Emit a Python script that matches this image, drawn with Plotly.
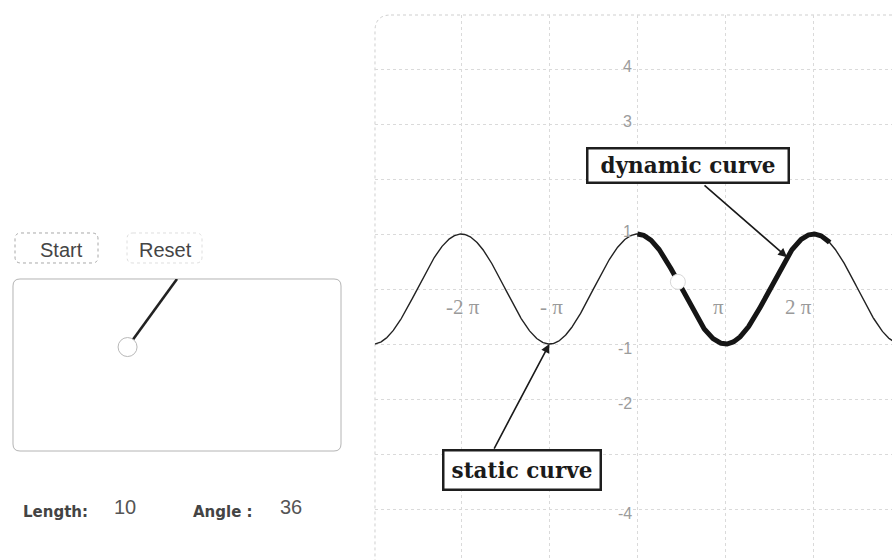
import numpy as np
import plotly.graph_objects as go

W, H = 892, 560

# ---- data -------------------------------------------------------------
pendulum_length = 10          # rod length
pendulum_angle = 36           # degrees from vertical
length_label = "Length:"
angle_label = "Angle :"

x_tick_vals = [-2 * np.pi, -np.pi, np.pi, 2 * np.pi]
x_tick_text = ["-2 \u03c0", "- \u03c0", "\u03c0", "2 \u03c0"]
y_tick_vals = [4, 3, 1, -1, -2, -4]
y_tick_text = ["4", "3", "1", "-1", "-2", "-4"]

amplitude = 1.0               # y = A cos(x)
dynamic_start = 0.0           # traced part of the curve
dynamic_end = 6.85
moving_point_x = 1.44         # current position of the tracing point
static_pointer_x = -np.pi     # where the "static curve" arrow points
dynamic_pointer_x = 5.33      # where the "dynamic curve" arrow points


def px(x):
    return x / W


def py(y):
    return 1 - y / H


def rrect(x0, y0, x1, y1, r):
    """Rounded rectangle path in paper units from pixel corners."""
    pts = [
        ("M", px(x0 + r), py(y0)),
        ("L", px(x1 - r), py(y0)),
        ("Q", px(x1), py(y0), px(x1), py(y0 + r)),
        ("L", px(x1), py(y1 - r)),
        ("Q", px(x1), py(y1), px(x1 - r), py(y1)),
        ("L", px(x0 + r), py(y1)),
        ("Q", px(x0), py(y1), px(x0), py(y1 - r)),
        ("L", px(x0), py(y0 + r)),
        ("Q", px(x0), py(y0), px(x0 + r), py(y0)),
    ]
    s = ""
    for p in pts:
        cmd, *c = p
        s += cmd + " " + " ".join(
            f"{c[i]:.5f},{c[i+1]:.5f}" for i in range(0, len(c), 2)) + " "
    return s + "Z"


fig = go.Figure()

# static curve y = cos x over the whole window
xs = np.linspace(-10, 10, 1001)
fig.add_trace(go.Scatter(x=xs, y=amplitude * np.cos(xs), mode="lines",
                         line=dict(color="#222222", width=1.4),
                         hoverinfo="skip", showlegend=False))

# dynamic (traced) part of the curve
xd = np.linspace(dynamic_start, dynamic_end, 400)
fig.add_trace(go.Scatter(x=xd, y=amplitude * np.cos(xd), mode="lines",
                         line=dict(color="#151515", width=5),
                         hoverinfo="skip", showlegend=False))

# tracing point
fig.add_trace(go.Scatter(x=[moving_point_x],
                         y=[amplitude * np.cos(moving_point_x)],
                         mode="markers",
                         marker=dict(size=15, color="white",
                                     line=dict(color="#d8d8d8", width=1)),
                         hoverinfo="skip", showlegend=False))

# pendulum rod and bob
a = np.radians(pendulum_angle)
bob_x = -pendulum_length * np.sin(a)
bob_y = -pendulum_length * np.cos(a)
fig.add_trace(go.Scatter(x=[0, bob_x], y=[0, bob_y], mode="lines",
                         line=dict(color="#222222", width=2.6),
                         xaxis="x2", yaxis="y2",
                         hoverinfo="skip", showlegend=False))
fig.add_trace(go.Scatter(x=[bob_x], y=[bob_y], mode="markers",
                         marker=dict(size=19, color="white",
                                     line=dict(color="#b8b8b8", width=1)),
                         xaxis="x2", yaxis="y2",
                         hoverinfo="skip", showlegend=False))

grid = dict(showgrid=True, gridcolor="#dadada", griddash="dot", gridwidth=1,
            zeroline=False, showticklabels=False, ticks="", showline=False,
            fixedrange=True)

fig.update_layout(
    width=W, height=H,
    margin=dict(l=0, r=0, t=0, b=0),
    paper_bgcolor="white", plot_bgcolor="white",
    xaxis=dict(domain=[px(375), 1], range=[-9.358, 9.073],
               tickvals=[k * np.pi for k in range(-3, 4)], **grid),
    yaxis=dict(domain=[0, py(15)], range=[-4.927, 4.982],
               tickvals=list(range(-5, 6)), **grid),
    xaxis2=dict(domain=[px(13), px(341)], range=[-19.5, 19.5],
                visible=False, fixedrange=True, anchor="y2"),
    yaxis2=dict(domain=[py(451), py(279)], range=[-20.45, 0],
                visible=False, fixedrange=True, anchor="x2"),
)

shapes = [
    # graph panel frame
    dict(type="path", xref="paper", yref="paper",
         path=rrect(375, 15, 910, 590, 16),
         line=dict(color="#cfcfcf", width=1, dash="dot"), layer="below"),
    # pendulum box
    dict(type="path", xref="paper", yref="paper",
         path=rrect(13, 279, 341, 451, 7),
         line=dict(color="#b4b4b4", width=1), layer="below"),
    # Start / Reset buttons
    dict(type="path", xref="paper", yref="paper",
         path=rrect(15, 233, 98, 263, 6),
         line=dict(color="#a8a8a8", width=1, dash="dot")),
    dict(type="path", xref="paper", yref="paper",
         path=rrect(127, 233, 202, 263, 6),
         line=dict(color="#dedede", width=1, dash="dot")),
]
fig.update_layout(shapes=shapes)

ann = []
# axis tick labels placed along the axes through the origin
for v, t in zip(x_tick_vals, x_tick_text):
    ann.append(dict(x=v, y=0, xref="x", yref="y", text=t, showarrow=False,
                    xanchor="right" if v > 0 else "center", yanchor="middle",
                    xshift=0 if v > 0 else 2, yshift=-18,
                    font=dict(family="Liberation Serif", size=21,
                              color="#9a9a9a")))
for v, t in zip(y_tick_vals, y_tick_text):
    ann.append(dict(x=0, y=v, xref="x", yref="y", text=t, showarrow=False,
                    xanchor="right", yanchor="middle", xshift=-4,
                    yshift=3 if v > 0 else -4,
                    font=dict(family="Liberation Sans", size=16,
                              color="#9c9c9c")))

# pointer arrows
sp_y = amplitude * np.cos(static_pointer_x)
dp_y = amplitude * np.cos(dynamic_pointer_x)
arrow = dict(text="", showarrow=True, arrowhead=2, arrowsize=1.1,
             arrowwidth=1.6, arrowcolor="#1a1a1a", axref="pixel",
             ayref="pixel", xref="x", yref="y")
ann.append(dict(x=static_pointer_x, y=sp_y, ax=-56, ay=106, **arrow))
ann.append(dict(x=dynamic_pointer_x, y=dp_y, ax=-84, ay=-73, **arrow))

# callout boxes
box_font = dict(family="DejaVu Serif", size=21.5, color="#1a1a1a")
ann.append(dict(x=px(688), y=py(165.5), xref="paper", yref="paper",
                xanchor="center", yanchor="middle",
                text="<b>dynamic curve</b>", showarrow=False,
                width=199, height=32, borderpad=0, borderwidth=2.5,
                bordercolor="#1e1e1e", bgcolor="white", font=box_font))
ann.append(dict(x=px(522), y=py(470), xref="paper", yref="paper",
                xanchor="center", yanchor="middle",
                text="<b>static curve</b>", showarrow=False,
                width=155, height=37, borderpad=0, borderwidth=2.5,
                bordercolor="#1e1e1e", bgcolor="white", font=box_font))

# buttons and readouts
btn_font = dict(family="Liberation Sans", size=20, color="#454545")
ann.append(dict(x=px(61), y=py(250), xref="paper", yref="paper",
                xanchor="center", yanchor="middle",
                text="Start", showarrow=False, font=btn_font))
ann.append(dict(x=px(165), y=py(250), xref="paper", yref="paper",
                xanchor="center", yanchor="middle",
                text="Reset", showarrow=False, font=btn_font))
lbl_font = dict(family="DejaVu Sans", size=15, color="#444444")
num_font = dict(family="Liberation Sans", size=20, color="#555555")
ann.append(dict(x=px(21), y=py(512), xref="paper", yref="paper",
                xanchor="left", yanchor="middle",
                text=f"<b>{length_label}</b>", showarrow=False,
                font=lbl_font))
ann.append(dict(x=px(112), y=py(507), xref="paper", yref="paper",
                xanchor="left", yanchor="middle",
                text=str(pendulum_length), showarrow=False, font=num_font))
ann.append(dict(x=px(191), y=py(512), xref="paper", yref="paper",
                xanchor="left", yanchor="middle",
                text=f"<b>{angle_label}</b>", showarrow=False,
                font=lbl_font))
ann.append(dict(x=px(278), y=py(507), xref="paper", yref="paper",
                xanchor="left", yanchor="middle",
                text=str(pendulum_angle), showarrow=False, font=num_font))

fig.update_layout(annotations=ann)

fig.write_html("out.html", config=dict(displayModeBar=False))
